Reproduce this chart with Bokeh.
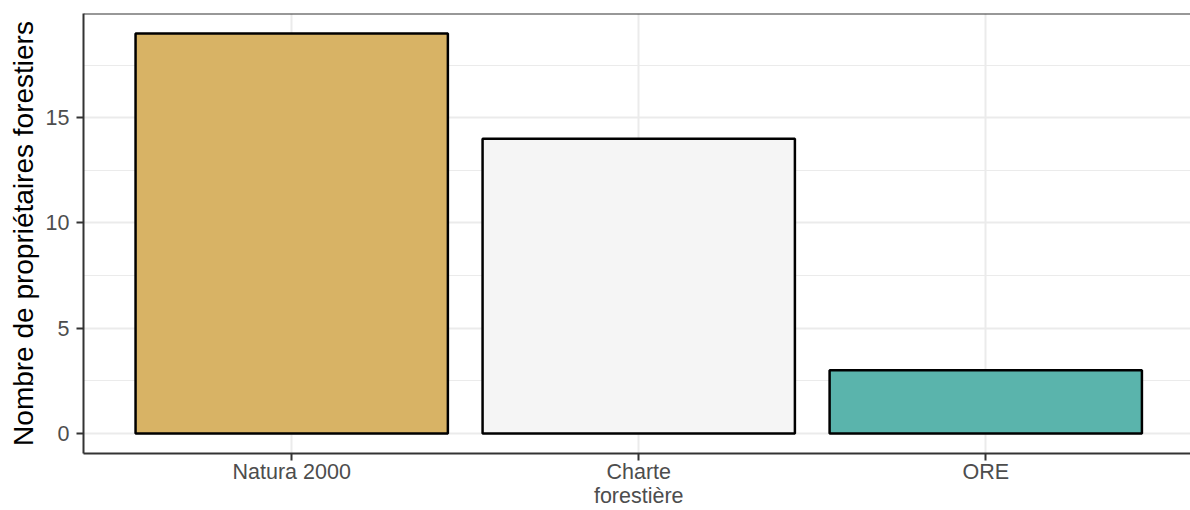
from bokeh.plotting import figure
from bokeh.models import Range1d, FixedTicker, SingleIntervalTicker, Span, ColumnDataSource
from bokeh.embed import file_html
from bokeh.resources import INLINE

categories = ["Natura 2000", "Charte\nforestière", "ORE"]
counts = [19, 14, 3]
y_label = "Nombre de propriétaires forestiers"

bar_colors = ["#D8B365", "#F5F5F5", "#5AB4AC"]
positions = list(range(1, len(categories) + 1))

src = ColumnDataSource(dict(x=positions, top=counts, color=bar_colors))

ymax = max(counts)
pad = 0.05 * ymax

p = figure(width=1190, height=510, output_backend="svg", toolbar_location=None,
           x_range=Range1d(0.4, 3.59), y_range=Range1d(-pad, ymax + pad),
           min_border_left=83, min_border_right=0, min_border_top=13, min_border_bottom=0)
p.background_fill_color = "white"
p.border_fill_color = "white"
p.outline_line_color = None

p.vbar(x="x", top="top", width=0.9, bottom=0, source=src, fill_color="color",
       line_color="black", line_width=2.5)

FONT = "Liberation Sans"
TICK_SIZE = "21.5px"

p.xaxis.ticker = FixedTicker(ticks=positions)
p.xaxis.major_label_overrides = {pos: c for pos, c in zip(positions, categories)}
p.yaxis.ticker = SingleIntervalTicker(interval=5, num_minor_ticks=2)
for ax in (p.xaxis, p.yaxis):
    ax.axis_line_color = "#333333"
    ax.axis_line_width = 2
    ax.major_tick_line_color = "#333333"
    ax.major_tick_line_width = 2
    ax.major_tick_out = 7
    ax.major_tick_in = 0
    ax.minor_tick_line_color = None
    ax.major_label_text_font = FONT
    ax.major_label_text_font_size = TICK_SIZE
    ax.major_label_text_color = "#4D4D4D"
p.xaxis.major_label_text_line_height = 1.02
p.xaxis.major_label_standoff = -1
p.yaxis.major_label_standoff = 7
p.yaxis.axis_label = y_label
p.yaxis.axis_label_text_font = FONT
p.yaxis.axis_label_text_font_size = "28px"
p.yaxis.axis_label_text_font_style = "normal"
p.yaxis.axis_label_text_color = "black"
p.yaxis.axis_label_standoff = 4

p.xgrid.ticker = FixedTicker(ticks=positions)
p.xgrid.grid_line_color = "#EBEBEB"
p.xgrid.grid_line_width = 2
p.ygrid.grid_line_color = "#EBEBEB"
p.ygrid.grid_line_width = 2
p.ygrid.minor_grid_line_color = "#EBEBEB"
p.ygrid.minor_grid_line_width = 1.2

p.add_layout(Span(location=ymax + pad, dimension="width", line_color="#333333", line_width=2))

open("out.html", "w").write(file_html(p, INLINE))
